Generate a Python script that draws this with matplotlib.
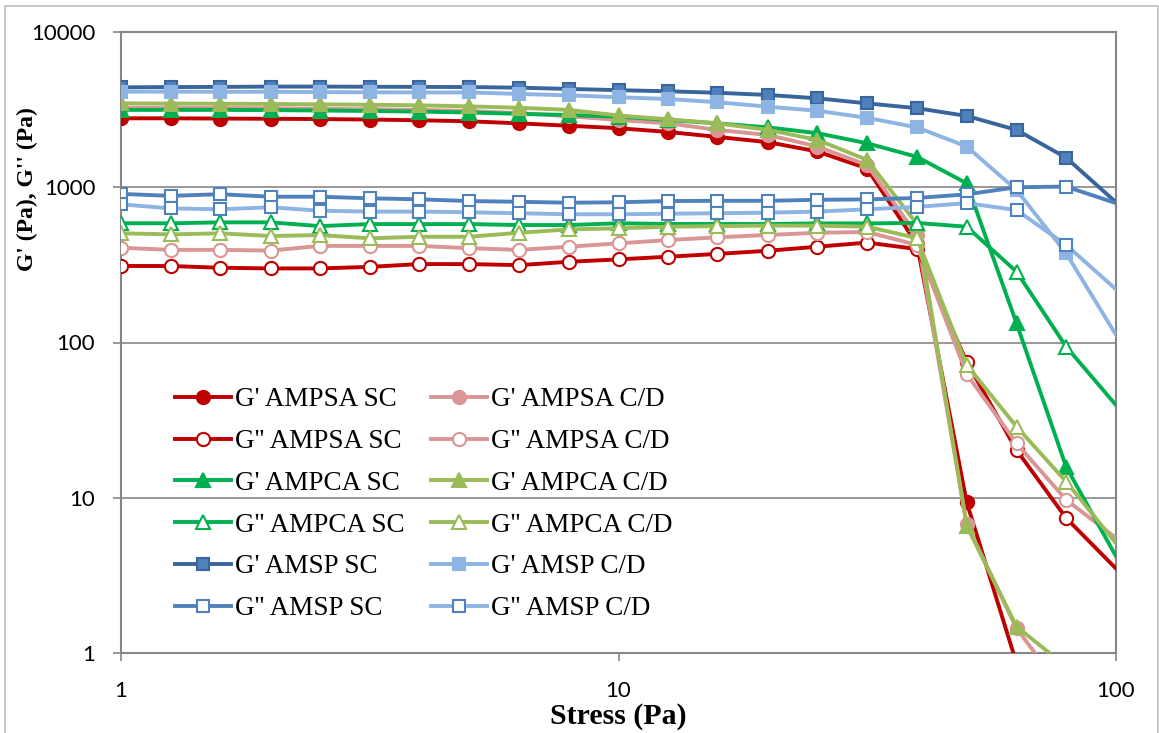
import matplotlib
matplotlib.use("Agg")
import matplotlib.pyplot as plt
from matplotlib.patches import Rectangle

# stress sweep (Pa)
stress = [1, 1.26, 1.58, 2.0, 2.51, 3.16, 3.98, 5.01, 6.31, 7.94, 10,
          12.6, 15.8, 20.0, 25.1, 31.6, 39.8, 50.1, 63.1, 79.4, 100]

gp_ampsa_sc = [2780, 2780, 2770, 2760, 2750, 2730, 2700, 2660, 2580, 2490, 2400,
               2270, 2110, 1950, 1700, 1320, 430, 9.35, 0.86, 0.1, 0.02]
gp_ampsa_cd = [3250, 3250, 3240, 3230, 3200, 3180, 3150, 3100, 3000, 2870, 2710,
               2580, 2340, 2170, 1830, 1390, 490, 6.8, 1.44, 0.54, 0.2]
gpp_ampsa_sc = [311, 311, 303, 300, 300, 307, 320, 320, 315, 331, 343,
                357, 372, 390, 414, 440, 400, 75, 20.3, 7.4, 3.5]
gpp_ampsa_cd = [408, 395, 395, 391, 419, 419, 419, 405, 395, 414, 435,
                457, 476, 493, 509, 515, 425, 62.7, 22.4, 9.7, 5.5]

gp_ampca_sc = [3150, 3150, 3150, 3140, 3120, 3100, 3070, 3030, 2970, 2920, 2850,
               2710, 2580, 2430, 2230, 1920, 1570, 1060, 133, 15.8, 4.2]
gp_ampca_cd = [3470, 3460, 3450, 3440, 3420, 3400, 3370, 3320, 3250, 3150, 2900,
               2740, 2580, 2340, 2020, 1500, 580, 6.6, 1.48, 0.82, 0.4]
gpp_ampca_sc = [586, 586, 594, 594, 562, 579, 579, 579, 571, 571, 586,
                580, 580, 580, 585, 585, 589, 557, 286, 94, 39.5]
gpp_ampca_cd = [505, 497, 505, 485, 492, 469, 480, 480, 509, 535, 544,
                557, 562, 566, 566, 557, 471, 71.6, 28.7, 12.7, 5.1]

gp_amsp_sc = [4400, 4420, 4430, 4450, 4450, 4440, 4430, 4420, 4380, 4300, 4220,
              4150, 4060, 3930, 3740, 3470, 3230, 2880, 2340, 1550, 800]
gp_amsp_cd = [4130, 4130, 4120, 4120, 4100, 4090, 4080, 4080, 3990, 3910, 3800,
              3700, 3530, 3300, 3110, 2800, 2430, 1830, 960, 375, 112]
gpp_amsp_sc = [906, 880, 902, 869, 869, 849, 836, 815, 806, 795, 800,
               815, 818, 818, 830, 835, 853, 900, 1000, 1010, 790]
gpp_amsp_cd = [776, 731, 721, 743, 706, 697, 697, 690, 680, 670, 670,
               675, 680, 686, 697, 721, 747, 790, 713, 425, 220]

y_ticks = [1, 10, 100, 1000, 10000]
x_ticks = [1, 10, 100]

RED = "#C00000"
PINK = "#D99694"
GREEN = "#00B050"
OLIVE = "#9BBB59"
NAVY = "#3A659C"
BLUE = "#4F81BD"
SKY = "#8DB4E2"

# (label, values, line colour, marker, face, edge) in Excel series order
series = [
    ("G' AMPSA SC", gp_ampsa_sc, RED, "o", RED, RED),
    ("G' AMPSA C/D", gp_ampsa_cd, PINK, "o", PINK, PINK),
    ("G'' AMPSA SC", gpp_ampsa_sc, RED, "o", "white", RED),
    ("G'' AMPSA C/D", gpp_ampsa_cd, PINK, "o", "white", PINK),
    ("G' AMPCA SC", gp_ampca_sc, GREEN, "^", GREEN, GREEN),
    ("G' AMPCA C/D", gp_ampca_cd, OLIVE, "^", OLIVE, OLIVE),
    ("G'' AMPCA SC", gpp_ampca_sc, GREEN, "^", "white", GREEN),
    ("G'' AMPCA C/D", gpp_ampca_cd, OLIVE, "^", "white", OLIVE),
    ("G' AMSP SC", gp_amsp_sc, NAVY, "s", BLUE, NAVY),
    ("G' AMSP C/D", gp_amsp_cd, SKY, "s", SKY, SKY),
    ("G'' AMSP SC", gpp_amsp_sc, BLUE, "s", "white", BLUE),
    ("G'' AMSP C/D", gpp_amsp_cd, SKY, "s", "white", BLUE),
]

W, H = 1159, 733
fig = plt.figure(figsize=(W / 100, H / 100), dpi=100)
fig.patches.append(Rectangle((5 / W, -0.05), 1152.5 / W, 1.05 - 6 / H,
                             transform=fig.transFigure, fill=False,
                             edgecolor="#BFBFBF", linewidth=1.2))

ax = fig.add_axes([121 / W, 1 - 653 / H, (1116 - 121) / W, (653 - 32) / H])
ax.set_xscale("log")
ax.set_yscale("log")

# markers are not drawn on the last point (x = 100, on the border)
mark_pts = list(range(len(stress) - 1))

handles = {}
for k, (label, vals, col, mk, face, edge) in enumerate(series):
    ms = 9.5 if mk != "s" else 9
    if mk == "^":
        ms = 10
    h, = ax.plot(stress, vals, color=col, linewidth=2.8, marker=mk,
                 markersize=ms, markerfacecolor=face, markeredgecolor=edge,
                 markeredgewidth=1.5, markevery=mark_pts, label=label,
                 zorder=3 + k, clip_on=True)
    handles[label] = h

ax.set_xlim(1, 100)
ax.set_ylim(1, 10000)
ax.minorticks_off()
ax.set_xticks(x_ticks)
ax.set_xticklabels([str(v) for v in x_ticks])
ax.set_yticks(y_ticks)
ax.set_yticklabels([str(v) for v in y_ticks])
for t in ax.get_xticklabels() + ax.get_yticklabels():
    t.set_fontfamily("Lato")
ax.tick_params(axis="both", direction="out", length=5.5, width=1.2,
               color="#868686", labelsize=16, labelcolor="black")
ax.tick_params(axis="x", pad=15)
ax.tick_params(axis="y", pad=13)

ax.yaxis.grid(True, color="#868686", linewidth=1.2)
ax.set_axisbelow(True)
for sp in ax.spines.values():
    sp.set_color("#868686")
    sp.set_linewidth(1.5)

# legend: column 1 = SC series, column 2 = C/D series
order = ["G' AMPSA SC", "G'' AMPSA SC", "G' AMPCA SC", "G'' AMPCA SC",
         "G' AMSP SC", "G'' AMSP SC",
         "G' AMPSA C/D", "G'' AMPSA C/D", "G' AMPCA C/D", "G'' AMPCA C/D",
         "G' AMSP C/D", "G'' AMSP C/D"]
leg = ax.legend([handles[o] for o in order], order, ncol=2, frameon=False,
                loc="upper left", bbox_to_anchor=(0.0543, 0.428),
                borderaxespad=0, borderpad=0, handlelength=2.05,
                handletextpad=0.15, columnspacing=1.0, labelspacing=0.62,
                prop={"family": "Liberation Serif", "size": 19.5})
leg.set_zorder(30)

fig.text(27 / W, 1 - 189 / H, "G' (Pa), G'' (Pa)", rotation=90,
         ha="center", va="center", fontsize=17, fontweight="bold",
         family="Liberation Serif")
fig.text(618 / W, 1 - 716 / H, "Stress (Pa)", ha="center", va="center",
         fontsize=21.5, fontweight="bold", family="Liberation Serif")

fig.savefig("out.png", dpi=100)
